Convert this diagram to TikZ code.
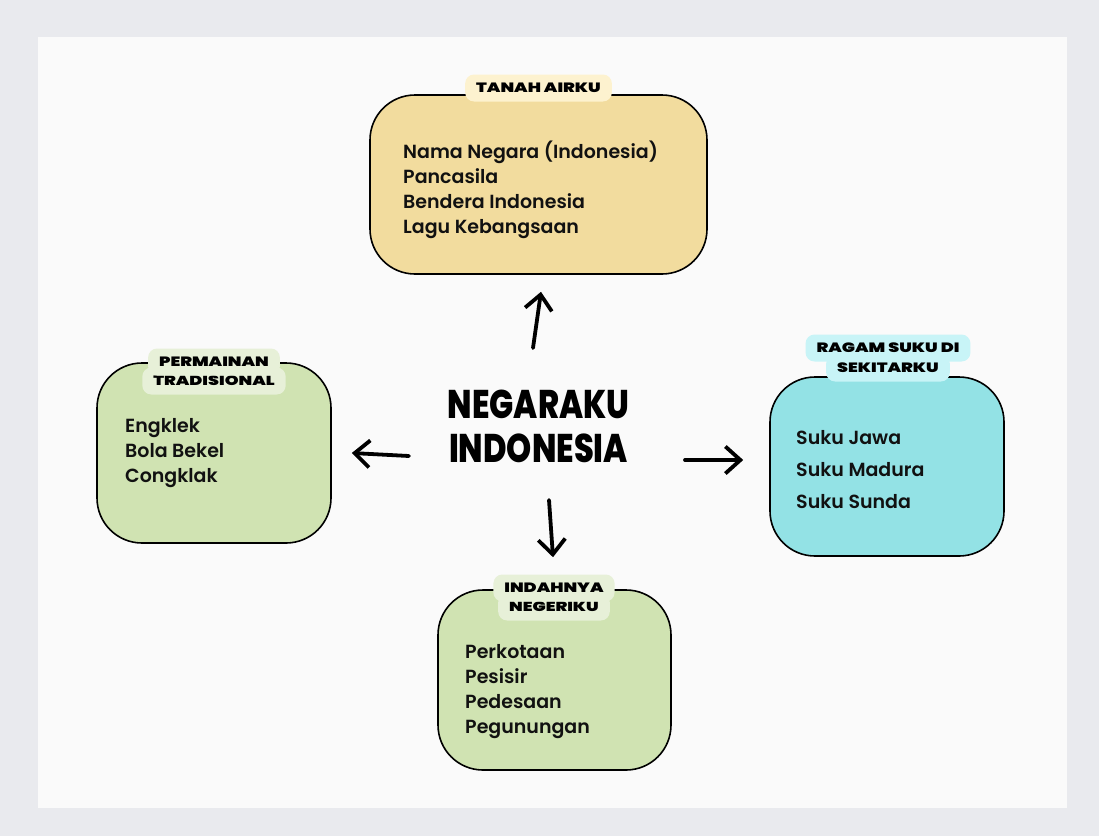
\documentclass[tikz,border=0pt]{standalone}
\usepackage{fontspec}
\setmainfont{Poppins SemiBold}
\newfontfamily\tagfont[FakeStretch=1.3]{Poppins Black}
\newfontfamily\handfont[FakeStretch=0.8]{Poppins ExtraBold}
\usetikzlibrary{arrows.meta}

\definecolor{outerC}{HTML}{E9EAEE}
\definecolor{cardC}{HTML}{FAFAFA}
\definecolor{tanC}{HTML}{F2DC9E}
\definecolor{tanT}{HTML}{FDF2CF}
\definecolor{greenC}{HTML}{D0E3B2}
\definecolor{greenT}{HTML}{E7F0D8}
\definecolor{cyanC}{HTML}{93E2E5}
\definecolor{cyanT}{HTML}{C8F4F7}
\definecolor{inkC}{HTML}{111111}

\tikzstyle{bS}=[draw=black, line width=1.6pt, rounded corners=45pt, inner sep=0pt]
\tikzstyle{tS}=[rounded corners=9pt, inner xsep=11pt, inner ysep=0pt, minimum height=27pt, text=black, font=\tagfont\fontsize{13.5}{13.5}\selectfont]
\tikzstyle{lS}=[anchor=west, inner sep=0pt, align=left, text=inkC, font=\fontsize{19}{25}\selectfont]
\tikzstyle{cS}=[align=center, inner sep=0pt, text=black, font=\handfont\fontsize{40}{44}\selectfont]
\tikzstyle{aS}=[line width=3.8pt, line cap=round, line join=round, -{Straight Barb[length=15pt,width=27pt]}]

\begin{document}
\begin{tikzpicture}[x=1pt, y=-1pt]
                \useasboundingbox (0,0) rectangle (1099,836);
                \fill[outerC] (0,0) rectangle (1099,836);
                \fill[cardC] (38,37) rectangle (1067,808);
                % four boxes
                \draw (538.5,184.5) node[bS,fill=tanC,minimum width=337pt,minimum height=179pt] (tanah) {};
                \draw (214,453) node[bS,fill=greenC,minimum width=234pt,minimum height=180pt] (main) {};
                \draw (887,466.5) node[bS,fill=cyanC,minimum width=234pt,minimum height=179pt] (suku) {};
                \draw (554.5,680) node[bS,fill=greenC,minimum width=233pt,minimum height=180pt] (indah) {};
                % tags
                \draw (538.5,88) node[tS,fill=tanT] (tanahT) {TANAH AIRKU};
                \draw (214,381) node[tS,fill=greenT] (mainT2) {TRADISIONAL};
                \draw (214,362) node[tS,fill=greenT] (mainT1) {PERMAINAN};
                \draw (888,368) node[tS,fill=cyanT] (sukuT2) {SEKITARKU};
                \draw (888,348) node[tS,fill=cyanT] (sukuT1) {RAGAM SUKU DI};
                \draw (554,607) node[tS,fill=greenT] (indahT2) {NEGERIKU};
                \draw (554,588) node[tS,fill=greenT] (indahT1) {INDAHNYA};
                % lists
                \draw (403,189.5) node[lS] (tanahL) {Nama Negara (Indonesia)\\Pancasila\\Bendera Indonesia\\Lagu Kebangsaan};
                \draw (125,453) node[lS] (mainL) {Engklek\\Bola Bekel\\Congklak};
                \draw (796,470) node[lS,font=\fontsize{19}{32}\selectfont] (sukuL) {Suku Jawa\\Suku Madura\\Suku Sunda};
                \draw (465,691.5) node[lS] (indahL) {Perkotaan\\Pesisir\\Pedesaan\\Pegunungan};
                % centre
                \draw (538.5,426) node[cS] (cen) {NEGARAKU\\INDONESIA};
                \path
                    ([shift={(-5.5,-78)}]cen.center) edge[aS] ([shift={(2.5,17)}]tanah.south)
                    ([shift={(-129.5,30)}]cen.center) edge[aS] ([shift={(20,0)}]main.east)
                    ([shift={(146.5,34)}]cen.center) edge[aS] ([shift={(-26,-6.5)}]suku.west)
                    ([shift={(10.5,74)}]cen.center) edge[aS] ([shift={(-1.5,-32)}]indah.north)
                ;
        \end{tikzpicture}
\end{document}
